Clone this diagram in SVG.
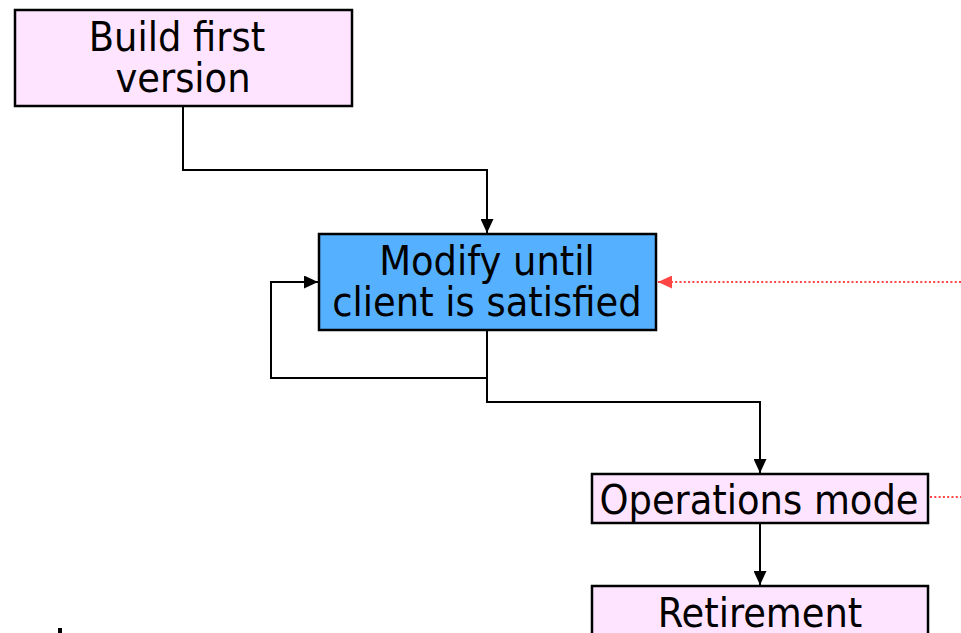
<svg xmlns="http://www.w3.org/2000/svg" width="961" height="633" viewBox="0 0 961 633">
  <defs>
    <style>
      .box { stroke: #000; stroke-width: 2.5; }
      .pink { fill: #FFE4FF; }
      .blue { fill: #55B1FF; }
      .lbl { font-family: "DejaVu Sans Condensed", "DejaVu Sans", sans-serif; font-stretch: condensed; font-size: 41px; fill: #000; text-anchor: middle; }
      .flow { fill: none; stroke: #000; stroke-width: 2; }
      .dot { fill: none; stroke: #FF4444; stroke-width: 2; stroke-dasharray: 2 2.3; }
    </style>
    <marker id="arrow" viewBox="0 0 14 13" refX="14" refY="6.5" markerWidth="14" markerHeight="13" markerUnits="userSpaceOnUse" orient="auto">
      <path d="M0,0 L14,6.5 L0,13 Z" fill="#000"/>
    </marker>
    <marker id="arrowRed" viewBox="0 0 14 13" refX="14" refY="6.5" markerWidth="14" markerHeight="13" markerUnits="userSpaceOnUse" orient="auto">
      <path d="M0,0 L14,6.5 L0,13 Z" fill="#FF4444"/>
    </marker>
  </defs>

  <rect width="961" height="633" fill="#fff"/>

  <g id="connectors">
    <path class="flow" d="M183,106 V170 H487 V233" marker-end="url(#arrow)"/>
    <path class="flow" d="M487,330 V378 H271 V282 H318" marker-end="url(#arrow)"/>
    <path class="flow" d="M487,378 V402 H760 V473" marker-end="url(#arrow)"/>
    <path class="flow" d="M760,523 V585" marker-end="url(#arrow)"/>
    <path class="dot" d="M961,282 H658" marker-end="url(#arrowRed)"/>
    <path class="dot" d="M930,497 H961"/>
  </g>

  <g id="build-first-version">
    <rect class="box pink" x="15" y="10" width="337" height="96"/>
    <text class="lbl" x="177" y="51">Build first</text>
    <text class="lbl" x="183" y="92">version</text>
  </g>

  <g id="modify-until-satisfied">
    <rect class="box blue" x="319" y="234" width="337" height="96"/>
    <text class="lbl" x="487" y="275">Modify until</text>
    <text class="lbl" x="487" y="316">client is satisfied</text>
  </g>

  <g id="operations-mode">
    <rect class="box pink" x="592" y="474" width="336" height="49"/>
    <text class="lbl" x="759" y="514">Operations mode</text>
  </g>

  <g id="retirement">
    <rect class="box pink" x="592" y="586" width="336" height="60"/>
    <text class="lbl" x="760" y="627">Retirement</text>
  </g>

  <rect x="58" y="628" width="4" height="5" fill="#000"/>
</svg>
